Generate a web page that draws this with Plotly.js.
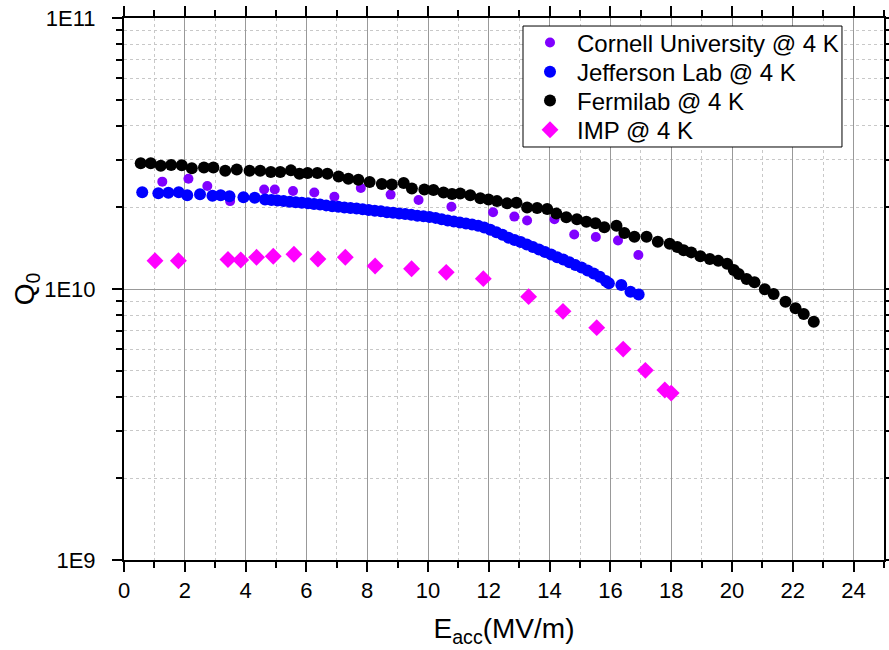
<!DOCTYPE html>
<html>
<head>
<meta charset="utf-8">
<script src="https://cdn.plot.ly/plotly-3.0.1.min.js"></script>
<style>
  html, body { margin: 0; padding: 0; background: #fff; }
  #chart { width: 889px; height: 650px; }
</style>
</head>
<body>
<div id="chart"></div>
<script>
// Q0 vs accelerating gradient, four labs at 4 K
const seriesNames = ["Cornell University @ 4 K", "Jefferson Lab @ 4 K", "Fermilab @ 4 K", "IMP @ 4 K"];

const cornellE = [1.26, 2.12, 2.74, 3.49, 4.61, 4.96, 5.56, 6.26, 6.92, 7.79, 8.77, 9.69, 10.77, 12.14, 12.84, 13.26, 14.16, 14.81, 15.52, 16.25, 16.92];
const cornellQ = [2.49e10, 2.55e10, 2.40e10, 2.11e10, 2.33e10, 2.33e10, 2.30e10, 2.27e10, 2.19e10, 2.36e10, 2.23e10, 2.13e10, 2.01e10, 1.92e10, 1.85e10, 1.79e10, 1.81e10, 1.59e10, 1.556e10, 1.51e10, 1.335e10];

const jlabE = [0.60, 1.13, 1.46, 1.80, 2.08, 2.50, 2.91, 3.18, 3.47, 3.93, 4.30, 4.64, 4.85, 5.05, 5.25, 5.45, 5.65, 5.85, 6.05, 6.25, 6.45, 6.65, 6.85, 7.05, 7.25, 7.45, 7.65, 7.85, 8.05, 8.25, 8.45, 8.65, 8.85, 9.05, 9.25, 9.45, 9.65, 9.85, 10.05, 10.25, 10.45, 10.65, 10.85, 11.05, 11.25, 11.45, 11.65, 11.85, 12.05, 12.25, 12.45, 12.65, 12.85, 13.05, 13.25, 13.45, 13.65, 13.85, 14.05, 14.25, 14.45, 14.65, 14.85, 15.05, 15.25, 15.45, 15.65, 15.85, 15.95, 16.36, 16.66, 16.93];
const jlabQ = [2.275e10, 2.255e10, 2.265e10, 2.275e10, 2.22e10, 2.235e10, 2.21e10, 2.22e10, 2.20e10, 2.18e10, 2.17e10, 2.14e10, 2.13e10, 2.12e10, 2.11e10, 2.10e10, 2.09e10, 2.08e10, 2.07e10, 2.06e10, 2.05e10, 2.035e10, 2.02e10, 2.01e10, 2.00e10, 1.99e10, 1.98e10, 1.97e10, 1.955e10, 1.945e10, 1.935e10, 1.92e10, 1.91e10, 1.90e10, 1.89e10, 1.88e10, 1.865e10, 1.855e10, 1.845e10, 1.83e10, 1.81e10, 1.79e10, 1.775e10, 1.76e10, 1.745e10, 1.73e10, 1.71e10, 1.685e10, 1.655e10, 1.62e10, 1.585e10, 1.545e10, 1.515e10, 1.49e10, 1.46e10, 1.43e10, 1.40e10, 1.37e10, 1.34e10, 1.31e10, 1.285e10, 1.255e10, 1.225e10, 1.20e10, 1.17e10, 1.14e10, 1.11e10, 1.07e10, 1.05e10, 1.035e10, 0.977e10, 0.955e10];

const fnalE = [0.55, 0.88, 1.21, 1.55, 1.90, 2.23, 2.63, 2.94, 3.33, 3.71, 4.13, 4.48, 4.83, 5.14, 5.49, 5.77, 6.04, 6.36, 6.69, 7.06, 7.38, 7.71, 8.08, 8.48, 8.81, 9.20, 9.47, 9.88, 10.18, 10.51, 10.79, 11.06, 11.39, 11.72, 11.99, 12.27, 12.60, 12.91, 13.26, 13.59, 13.92, 14.22, 14.55, 14.90, 15.21, 15.51, 15.80, 16.20, 16.46, 16.79, 17.19, 17.56, 17.95, 18.20, 18.41, 18.66, 18.96, 19.27, 19.55, 19.84, 20.06, 20.22, 20.48, 20.74, 21.08, 21.37, 21.76, 22.09, 22.36, 22.69];
const fnalQ = [2.91e10, 2.91e10, 2.85e10, 2.87e10, 2.86e10, 2.79e10, 2.81e10, 2.81e10, 2.73e10, 2.76e10, 2.73e10, 2.73e10, 2.70e10, 2.70e10, 2.74e10, 2.66e10, 2.68e10, 2.68e10, 2.66e10, 2.60e10, 2.55e10, 2.53e10, 2.48e10, 2.44e10, 2.43e10, 2.46e10, 2.35e10, 2.33e10, 2.32e10, 2.27e10, 2.24e10, 2.25e10, 2.22e10, 2.16e10, 2.14e10, 2.11e10, 2.07e10, 2.08e10, 2.00e10, 1.99e10, 1.975e10, 1.90e10, 1.84e10, 1.81e10, 1.77e10, 1.75e10, 1.69e10, 1.71e10, 1.61e10, 1.56e10, 1.56e10, 1.495e10, 1.47e10, 1.43e10, 1.39e10, 1.365e10, 1.32e10, 1.29e10, 1.27e10, 1.24e10, 1.175e10, 1.136e10, 1.088e10, 1.06e10, 0.998e10, 0.958e10, 0.898e10, 0.849e10, 0.809e10, 0.757e10];

const impE = [1.02, 1.79, 3.42, 3.84, 4.36, 4.91, 5.59, 6.38, 7.28, 8.26, 9.46, 10.60, 11.82, 13.31, 14.44, 15.55, 16.42, 17.15, 17.79, 18.00];
const impQ = [1.272e10, 1.272e10, 1.285e10, 1.28e10, 1.309e10, 1.32e10, 1.343e10, 1.29e10, 1.31e10, 1.216e10, 1.188e10, 1.152e10, 1.092e10, 0.937e10, 0.827e10, 0.72e10, 0.60e10, 0.501e10, 0.424e10, 0.413e10];

const xTicks = [0, 2, 4, 6, 8, 10, 12, 14, 16, 18, 20, 22, 24];
const yTickVals = [1e9, 1e10, 1e11];
const yTickText = ["1E9", "1E10", "1E11"];
const yMinorVals = [2e9, 3e9, 4e9, 5e9, 6e9, 7e9, 8e9, 9e9, 2e10, 3e10, 4e10, 5e10, 6e10, 7e10, 8e10, 9e10];

const FONT = "Arial, 'Liberation Sans', sans-serif";

// one legend per series so the rows sit tightly inside a single framed box
const legendIds = ["legend", "legend2", "legend3", "legend4"];
const legendRowY = [0.954, 0.900, 0.847, 0.793];

const traces = [
  { x: cornellE, y: cornellQ, name: seriesNames[0], mode: "markers", type: "scatter", legend: legendIds[0],
    marker: { symbol: "circle", size: 10, color: "#8000ff" } },
  { x: jlabE, y: jlabQ, name: seriesNames[1], mode: "markers", type: "scatter", legend: legendIds[1],
    marker: { symbol: "circle", size: 12, color: "#0000ff" } },
  { x: fnalE, y: fnalQ, name: seriesNames[2], mode: "markers", type: "scatter", legend: legendIds[2],
    marker: { symbol: "circle", size: 12, color: "#000000" } },
  { x: impE, y: impQ, name: seriesNames[3], mode: "markers", type: "scatter", legend: legendIds[3],
    marker: { symbol: "diamond", size: 13, color: "#ff00ff" } }
];

const layout = {
  width: 889, height: 650,
  margin: { l: 124, r: 5, t: 18, b: 90, pad: 0 },
  paper_bgcolor: "#ffffff", plot_bgcolor: "#ffffff",
  font: { family: FONT, color: "#000" },
  showlegend: true,
  shapes: [{
    type: "rect", xref: "paper", yref: "paper", layer: "above",
    x0: 0.525, x1: 0.9447, y0: 0.762, y1: 0.9852,
    line: { color: "#000", width: 1 }, fillcolor: "#ffffff"
  }],
  xaxis: {
    range: [0, 25], tickmode: "array", tickvals: xTicks,
    ticks: "outside", ticklen: 10, tickwidth: 2, tickcolor: "#000",
    showline: true, linewidth: 2, linecolor: "#000", mirror: "allticks",
    showgrid: true, gridcolor: "#999999", gridwidth: 1, zeroline: false,
    tickfont: { family: FONT, size: 22, color: "#000" },
    minor: { dtick: 1, tick0: 0, ticks: "outside", ticklen: 6, tickwidth: 2, tickcolor: "#000",
             showgrid: true, gridcolor: "#c8c8c8", griddash: "dot", gridwidth: 1 },
    title: { text: "E<sub>acc</sub>(MV/m)", font: { family: FONT, size: 28, color: "#000" }, standoff: 16 }
  },
  yaxis: {
    type: "log", range: [9, 11], tickmode: "array", tickvals: yTickVals, ticktext: yTickText,
    ticks: "outside", ticklen: 10, tickwidth: 2, tickcolor: "#000",
    showline: true, linewidth: 2, linecolor: "#000", mirror: "allticks",
    showgrid: true, gridcolor: "#999999", gridwidth: 1, zeroline: false,
    tickfont: { family: FONT, size: 22, color: "#000" },
    ticklabelstandoff: 12,
    minor: { tickmode: "array", tickvals: yMinorVals, ticks: "outside", ticklen: 6, tickwidth: 2, tickcolor: "#000",
             showgrid: true, gridcolor: "#c8c8c8", griddash: "dot", gridwidth: 1 },
    title: { text: "Q<sub>0</sub>", font: { family: FONT, size: 28, color: "#000" }, standoff: 0 }
  }
};

legendIds.forEach((id, i) => {
  layout[id] = {
    x: 0.525, y: legendRowY[i], xanchor: "left", yanchor: "middle",
    bgcolor: "rgba(0,0,0,0)", borderwidth: 0,
    font: { family: FONT, size: 24, color: "#000" },
    itemwidth: 44
  };
});

Plotly.newPlot("chart", traces, layout, { displayModeBar: false, staticPlot: true });
</script>
</body>
</html>
